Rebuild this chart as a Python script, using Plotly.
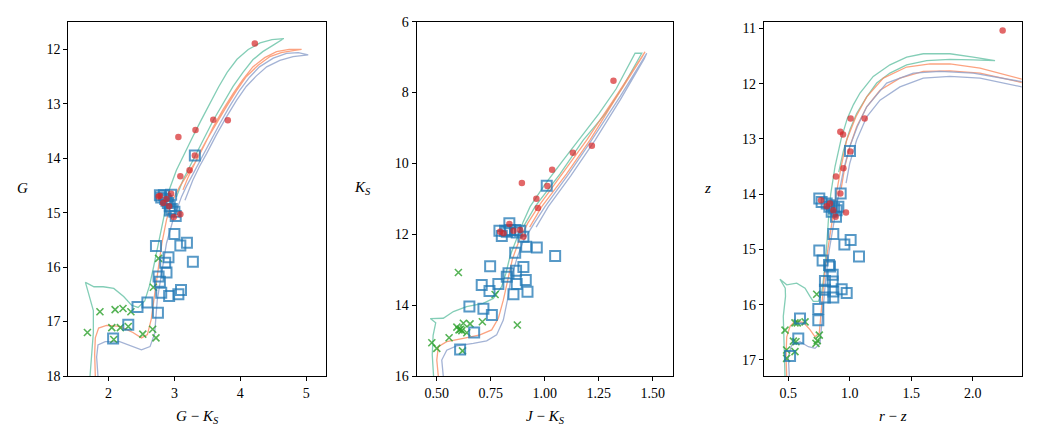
import plotly.graph_objects as go

# ---------------- Panel 1: G vs G-Ks ----------------
P1_RED_X = [4.22, 3.06, 3.32, 3.59, 3.81, 3.31, 3.09, 3.23, 2.95, 2.78, 2.83, 3.09, 2.99, 2.88, 2.92, 2.76]
P1_RED_Y = [11.89, 13.61, 13.48, 13.29, 13.30, 13.95, 14.33, 14.22, 14.65, 14.69, 14.82, 15.03, 15.08, 14.75, 14.88, 14.70]
P1_SQ_X = [3.31, 2.78, 2.84, 2.95, 2.86, 2.90, 2.93, 2.96, 3.00, 3.02, 2.93, 2.80, 2.88, 3.00, 2.72, 3.09,
           3.19, 2.91, 2.86, 3.28, 2.88, 2.76, 2.78, 3.10, 2.80, 2.92, 3.06, 2.59, 2.44, 2.75, 2.30, 2.07]
P1_SQ_Y = [13.95, 14.68, 14.68, 14.67, 14.75, 14.82, 14.88, 14.93, 14.98, 15.06, 14.96, 14.72, 14.78, 15.39, 15.61, 15.60,
           15.55, 15.82, 15.92, 15.90, 16.10, 16.17, 16.27, 16.42, 16.47, 16.53, 16.50, 16.65, 16.73, 16.84, 17.06, 17.31]
P1_X_X = [1.68, 1.87, 2.10, 2.22, 2.34, 2.05, 2.18, 2.30, 2.08, 2.52, 2.67, 2.72, 2.76, 2.68]
P1_X_Y = [17.20, 16.82, 16.78, 16.76, 16.82, 17.11, 17.11, 17.09, 17.33, 17.23, 17.14, 17.30, 15.84, 16.37]

P1_ISO_GREEN_X = [1.72, 1.74, 1.77, 1.77, 1.70, 1.65, 1.78, 1.92, 2.08, 2.23, 2.35, 2.45, 2.55, 2.62, 2.68, 2.74, 2.80,
                  2.86, 2.93, 3.03, 3.15, 3.28, 3.41, 3.54, 3.67, 3.80, 3.95, 4.12, 4.30, 4.48, 4.66,
                  4.50, 4.34, 4.19, 4.04, 3.89, 3.74, 3.59, 3.46, 3.34, 3.23, 3.13, 3.03]
P1_ISO_GREEN_Y = [18.0, 17.6, 17.2, 16.8, 16.5, 16.28, 16.36, 16.36, 16.39, 16.54, 16.70, 16.74, 16.62, 16.35, 16.02, 15.65, 15.28,
                  14.92, 14.55, 14.22, 13.91, 13.60, 13.29, 12.99, 12.69, 12.42, 12.18, 12.00, 11.88, 11.82, 11.80,
                  11.92, 12.04, 12.19, 12.42, 12.68, 12.99, 13.30, 13.61, 13.91, 14.16, 14.40, 14.71]
P1_ISO_ORANGE_X = [1.80, 1.79, 1.80, 1.85, 1.97, 2.17, 2.37, 2.50, 2.59, 2.65, 2.70, 2.75, 2.81, 2.88, 2.96, 3.08,
                   3.21, 3.34, 3.47, 3.59, 3.74, 3.89, 4.04, 4.19, 4.37, 4.55, 4.74, 4.93,
                   4.80, 4.62, 4.45, 4.27, 4.09, 3.94, 3.79, 3.64, 3.49, 3.38, 3.28, 3.20, 3.13]
P1_ISO_ORANGE_Y = [18.0, 17.6, 17.3, 17.12, 17.07, 17.09, 17.20, 17.30, 17.24, 16.95, 16.50, 16.05, 15.56, 15.13, 14.80, 14.52,
                   14.27, 14.03, 13.72, 13.42, 13.10, 12.81, 12.55, 12.32, 12.15, 12.04, 12.00, 12.00,
                   12.02, 12.06, 12.13, 12.29, 12.50, 12.76, 13.05, 13.35, 13.66, 13.91, 14.16, 14.37, 14.58]
P1_ISO_BLUE_X = [1.84, 1.82, 1.84, 1.95, 2.17, 2.37, 2.50, 2.63, 2.70, 2.74, 2.81, 2.88, 2.98, 3.11, 3.18,
                 3.29, 3.39, 3.54, 3.69, 3.84, 3.99, 4.14, 4.29, 4.50, 4.70, 4.88, 5.03,
                 4.80, 4.60, 4.40, 4.24, 4.09, 3.94, 3.79, 3.64, 3.49, 3.38, 3.28, 3.16]
P1_ISO_BLUE_Y = [18.0, 17.65, 17.43, 17.37, 17.37, 17.46, 17.52, 17.46, 17.22, 16.60, 16.05, 15.56, 15.13, 14.70, 14.52,
                 14.27, 14.03, 13.69, 13.36, 13.04, 12.75, 12.51, 12.32, 12.16, 12.07, 12.06, 12.10,
                 12.13, 12.20, 12.32, 12.49, 12.68, 12.94, 13.24, 13.56, 13.91, 14.15, 14.40, 14.77]

# ---------------- Panel 2: Ks vs J-Ks ----------------
P2_RED_X = [1.318, 1.218, 1.130, 1.034, 0.894, 1.012, 0.961, 0.968, 0.836, 0.793, 0.809, 0.886, 0.901, 0.855]
P2_RED_Y = [7.67, 9.50, 9.70, 10.18, 10.55, 10.64, 11.00, 11.26, 11.71, 11.93, 11.97, 11.88, 12.07, 11.90]
P2_SQ_X = [1.009, 0.836, 0.790, 0.801, 0.816, 0.840, 0.863, 0.886, 0.901, 0.824, 0.870, 0.963, 0.914, 0.863, 1.048, 0.747,
           0.901, 0.832, 0.824, 0.867, 0.912, 0.708, 0.785, 0.870, 0.744, 0.855, 0.920, 0.651, 0.716, 0.755, 0.673, 0.608]
P2_SQ_Y = [10.63, 11.69, 11.90, 12.05, 11.90, 11.88, 11.88, 11.90, 12.07, 11.93, 11.95, 12.37, 12.35, 12.52, 12.61, 12.90,
           12.92, 13.10, 13.20, 13.03, 13.29, 13.43, 13.40, 13.40, 13.60, 13.69, 13.62, 14.04, 14.10, 14.28, 14.77, 15.25]
P2_X_X = [0.600, 0.770, 0.477, 0.500, 0.557, 0.603, 0.623, 0.654, 0.616, 0.639, 0.711, 0.873, 0.619, 0.593, 0.610]
P2_X_Y = [13.08, 13.70, 15.06, 15.22, 14.92, 14.70, 14.51, 14.53, 14.72, 14.78, 14.47, 14.56, 15.29, 14.62, 14.68]

P2_ISO_GREEN_X = [0.485, 0.479, 0.483, 0.495, 0.470, 0.530, 0.577, 0.638, 0.715, 0.762, 0.800, 0.820, 0.840, 0.870,
                  0.900, 0.932, 1.000, 1.080, 1.155, 1.250, 1.330, 1.418,
                  1.449, 1.360, 1.280, 1.178, 1.070, 0.955, 0.900]
P2_ISO_GREEN_Y = [16.0, 15.4, 14.85, 14.5, 14.38, 14.37, 14.18, 14.04, 13.95, 13.81, 13.48, 13.10, 12.6, 12.1,
                  11.65, 11.22, 10.6, 9.95, 9.34, 8.6, 7.9, 6.89,
                  6.89, 7.85, 8.6, 9.34, 10.3, 11.22, 11.8]
P2_ISO_ORANGE_X = [0.507, 0.500, 0.507, 0.546, 0.623, 0.700, 0.754, 0.785, 0.808, 0.827, 0.850, 0.880, 0.920, 0.970,
                   1.080, 1.194, 1.330, 1.464,
                   1.450, 1.330, 1.209, 1.100, 0.986, 0.930]
P2_ISO_ORANGE_Y = [16.0, 15.55, 15.17, 15.03, 14.94, 14.84, 14.70, 14.37, 13.86, 13.29, 12.7, 12.2, 11.7, 11.22,
                   10.3, 9.34, 8.1, 6.85,
                   7.0, 8.15, 9.34, 10.3, 11.22, 11.8]
P2_ISO_BLUE_X = [0.530, 0.523, 0.546, 0.592, 0.669, 0.731, 0.777, 0.808, 0.827, 0.842, 0.870, 0.900, 0.950, 1.001,
                 1.110, 1.217, 1.350, 1.472,
                 1.460, 1.350, 1.233, 1.120, 1.016, 0.960]
P2_ISO_BLUE_Y = [16.0, 15.55, 15.27, 15.15, 15.08, 15.01, 14.84, 14.42, 13.86, 13.29, 12.7, 12.2, 11.7, 11.22,
                 10.3, 9.34, 8.1, 6.89,
                 7.05, 8.2, 9.34, 10.35, 11.22, 11.8]

# ---------------- Panel 3: z vs r-z ----------------
P3_RED_X = [2.244, 1.007, 1.121, 0.923, 0.945, 1.004, 0.948, 0.888, 0.923, 0.969, 0.766, 0.839, 0.866, 0.885, 0.812]
P3_RED_Y = [11.04, 12.63, 12.63, 12.87, 12.92, 13.23, 13.53, 13.68, 13.99, 14.33, 14.11, 14.17, 14.29, 14.41, 14.22]
P3_SQ_X = [1.002, 0.926, 0.752, 0.771, 0.812, 0.834, 0.853, 0.872, 0.893, 0.907, 0.888, 0.853, 0.866, 0.956, 1.007, 1.075,
           0.752, 0.779, 0.831, 0.839, 0.861, 0.798, 0.861, 0.934, 0.798, 0.866, 0.975, 0.798, 0.866, 0.744, 0.744,
           0.595, 0.581, 0.514]
P3_SQ_Y = [13.22, 13.99, 14.08, 14.14, 14.17, 14.23, 14.20, 14.26, 14.29, 14.23, 14.41, 14.32, 14.72, 14.91, 14.83, 15.13,
           15.02, 15.20, 15.28, 15.31, 15.46, 15.57, 15.58, 15.72, 15.73, 15.76, 15.79, 15.87, 15.87, 16.08, 16.28,
           16.25, 16.61, 16.93]
P3_X_X = [0.731, 0.473, 0.486, 0.486, 0.554, 0.573, 0.636, 0.541, 0.562, 0.554, 0.752, 0.736, 0.725]
P3_X_Y = [15.81, 16.46, 16.82, 16.97, 16.33, 16.33, 16.31, 16.66, 16.67, 16.85, 16.55, 16.65, 16.70]

P3_ISO_GREEN_X = [0.473, 0.465, 0.459, 0.477, 0.475, 0.432, 0.487, 0.568, 0.636, 0.676, 0.703, 0.744, 0.771, 0.785,
                  0.798, 0.812, 0.825, 0.845, 0.880, 0.930, 0.980, 1.030, 1.083, 1.191, 1.327, 1.463, 1.598, 1.815,
                  2.005, 2.182,
                  2.005, 1.815, 1.626, 1.463, 1.327, 1.219, 1.138, 1.056, 1.000, 0.950, 0.910]
P3_ISO_GREEN_Y = [17.30, 16.64, 16.21, 15.85, 15.70, 15.54, 15.64, 15.61, 15.70, 15.85, 15.94, 15.94, 15.79, 15.55,
                  15.25, 14.95, 14.50, 14.00, 13.50, 13.00, 12.63, 12.38, 12.17, 11.87, 11.66, 11.52, 11.46, 11.46,
                  11.52, 11.585,
                  11.57, 11.56, 11.585, 11.66, 11.81, 11.99, 12.24, 12.54, 12.84, 13.2, 13.6]
P3_ISO_ORANGE_X = [0.487, 0.481, 0.487, 0.514, 0.554, 0.622, 0.676, 0.717, 0.752, 0.763, 0.776, 0.798, 0.825, 0.853,
                   0.890, 0.930, 0.975, 1.050, 1.138, 1.273, 1.463, 1.653, 1.815, 2.060, 2.400, 2.600,
                   2.400, 2.060, 1.815, 1.598, 1.408, 1.246, 1.138, 1.056, 1.000, 0.960, 0.930]
P3_ISO_ORANGE_Y = [17.30, 16.94, 16.58, 16.39, 16.30, 16.32, 16.45, 16.58, 16.51, 16.21, 15.85, 15.37, 14.95, 14.50,
                   14.00, 13.50, 13.02, 12.60, 12.24, 11.90, 11.70, 11.645, 11.645, 11.72, 11.92, 12.00,
                   11.98, 11.81, 11.77, 11.78, 11.90, 12.12, 12.42, 12.78, 13.14, 13.5, 13.9]
P3_ISO_BLUE_X = [0.508, 0.500, 0.527, 0.595, 0.663, 0.717, 0.758, 0.771, 0.785, 0.806, 0.833, 0.866, 0.910, 0.950,
                 1.000, 1.065, 1.138, 1.300, 1.517, 1.734, 2.005, 2.400, 2.600,
                 2.400, 2.060, 1.815, 1.598, 1.408, 1.246, 1.138, 1.056, 1.000, 0.970]
P3_ISO_BLUE_Y = [17.30, 16.94, 16.73, 16.67, 16.76, 16.79, 16.70, 16.39, 15.97, 15.49, 15.01, 14.55, 14.00, 13.55,
                 13.14, 12.76, 12.42, 11.99, 11.81, 11.78, 11.81, 11.965, 12.08,
                 12.06, 11.90, 11.87, 11.90, 12.06, 12.30, 12.60, 13.02, 13.44, 13.8]

# ---------------- Axis settings ----------------
X_TITLES = ["<i>G</i> − <i>K</i><sub><i>S</i></sub>", "<i>J</i> − <i>K</i><sub><i>S</i></sub>", "<i>r</i> − <i>z</i>"]
Y_TITLES = ["<i>G</i>", "<i>K</i><sub><i>S</i></sub>", "<i>z</i>"]
X_RANGES = [[1.39, 5.3], [0.407, 1.595], [0.302, 2.399]]
Y_RANGES = [[18.0, 11.49], [16.0, 6.0], [17.29, 10.88]]
X_TICKS = [[2, 3, 4, 5], [0.5, 0.75, 1.0, 1.25, 1.5], [0.5, 1.0, 1.5, 2.0]]
X_TICKTEXT = [["2", "3", "4", "5"], ["0.50", "0.75", "1.00", "1.25", "1.50"], ["0.5", "1.0", "1.5", "2.0"]]
Y_TICKS = [[12, 13, 14, 15, 16, 17, 18], [6, 8, 10, 12, 14, 16], [11, 12, 13, 14, 15, 16, 17]]

ISO_COLORS = ["#66c2a5", "#fc8d62", "#8da0cb"]
RED = "rgba(214,39,40,0.7)"
BLUE = "rgba(31,119,180,0.75)"
GREEN = "rgba(44,160,44,0.8)"

FONT = "Liberation Serif, DejaVu Serif, serif"

panels = [
    dict(iso=[(P1_ISO_GREEN_X, P1_ISO_GREEN_Y), (P1_ISO_ORANGE_X, P1_ISO_ORANGE_Y), (P1_ISO_BLUE_X, P1_ISO_BLUE_Y)],
         red=(P1_RED_X, P1_RED_Y), sq=(P1_SQ_X, P1_SQ_Y), xx=(P1_X_X, P1_X_Y)),
    dict(iso=[(P2_ISO_GREEN_X, P2_ISO_GREEN_Y), (P2_ISO_ORANGE_X, P2_ISO_ORANGE_Y), (P2_ISO_BLUE_X, P2_ISO_BLUE_Y)],
         red=(P2_RED_X, P2_RED_Y), sq=(P2_SQ_X, P2_SQ_Y), xx=(P2_X_X, P2_X_Y)),
    dict(iso=[(P3_ISO_GREEN_X, P3_ISO_GREEN_Y), (P3_ISO_ORANGE_X, P3_ISO_ORANGE_Y), (P3_ISO_BLUE_X, P3_ISO_BLUE_Y)],
         red=(P3_RED_X, P3_RED_Y), sq=(P3_SQ_X, P3_SQ_Y), xx=(P3_X_X, P3_X_Y)),
]

W, H = 1044, 444
X_DOMAINS = [[68.3 / W, 326 / W], [416.7 / W, 673.3 / W], [764 / W, 1021.7 / W]]
Y_DOMAIN = [(H - 376) / H, (H - 21.7) / H]
YLABEL_X = [22, 362, 707]

fig = go.Figure()
layout = dict(
    width=W, height=H, margin=dict(l=0, r=0, t=0, b=0, autoexpand=False),
    paper_bgcolor="white", plot_bgcolor="white", showlegend=False,
    font=dict(family=FONT, size=14, color="black"),
)
annotations = []
for i, p in enumerate(panels):
    xa = "x" if i == 0 else f"x{i+1}"
    ya = "y" if i == 0 else f"y{i+1}"
    for (ix, iy), c in zip(p["iso"], ISO_COLORS):
        fig.add_trace(go.Scatter(x=ix, y=iy, mode="lines", xaxis=xa, yaxis=ya,
                                 line=dict(color=c, width=1.3),
                                 opacity=0.8, hoverinfo="skip"))
    fig.add_trace(go.Scatter(x=p["xx"][0], y=p["xx"][1], mode="markers", xaxis=xa, yaxis=ya,
                             marker=dict(symbol="x-thin", size=7, line=dict(color=GREEN, width=1.6))))
    fig.add_trace(go.Scatter(x=p["sq"][0], y=p["sq"][1], mode="markers", xaxis=xa, yaxis=ya,
                             marker=dict(symbol="square-open", size=10, color=BLUE, line=dict(width=2))))
    fig.add_trace(go.Scatter(x=p["red"][0], y=p["red"][1], mode="markers", xaxis=xa, yaxis=ya,
                             marker=dict(symbol="circle", size=6.5, color=RED, line=dict(width=0))))
    axcommon = dict(showline=True, linecolor="black", linewidth=1.2, mirror=True, ticks="outside",
                    ticklen=4, tickwidth=1.1, tickcolor="black", showgrid=False, zeroline=False,
                    automargin=False, tickfont=dict(family=FONT, size=14, color="black"))
    layout["xaxis" if i == 0 else f"xaxis{i+1}"] = dict(
        axcommon, domain=X_DOMAINS[i], range=X_RANGES[i], anchor=ya,
        tickvals=X_TICKS[i], ticktext=X_TICKTEXT[i],
        title=dict(text=X_TITLES[i], font=dict(family=FONT, size=15), standoff=10))
    layout["yaxis" if i == 0 else f"yaxis{i+1}"] = dict(
        axcommon, domain=Y_DOMAIN, range=Y_RANGES[i], anchor=xa, tickvals=Y_TICKS[i])
    annotations.append(dict(text=Y_TITLES[i], xref="paper", yref="paper", x=YLABEL_X[i] / W,
                            y=(H - 188) / H, showarrow=False, xanchor="center", yanchor="middle",
                            font=dict(family=FONT, size=15, color="black")))
layout["annotations"] = annotations
fig.update_layout(**layout)
fig.write_html("out.html")
